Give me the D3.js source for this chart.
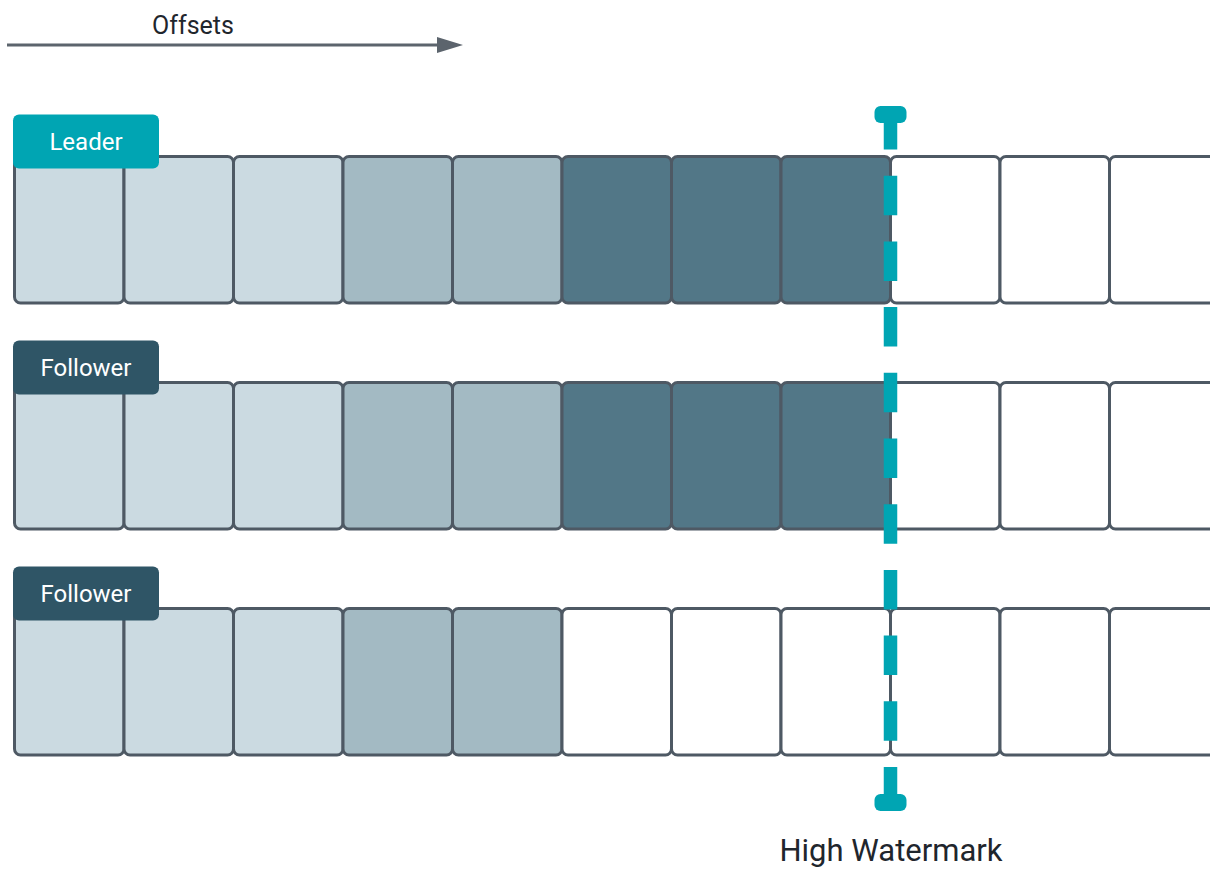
<!DOCTYPE html>
<html>
<head>
<meta charset="utf-8">
<script src="https://cdn.jsdelivr.net/npm/d3@7"></script>
<style>
  html, body { margin: 0; padding: 0; background: #fff; overflow: hidden; }
  text { font-family: Roboto, "Noto Sans", sans-serif; }
</style>
</head>
<body>
<div id="chart"></div>
<script>
// replicas, top to bottom
let replicaNames = ["Leader", "Follower", "Follower"];
let replicaRoles = ["leader", "follower", "follower"];
// state per offset: 1 = old, 2 = older committed, 3 = recent committed, 0 = empty
let replicaLogs = [
    [1, 1, 1, 2, 2, 3, 3, 3, 0, 0, 0],
    [1, 1, 1, 2, 2, 3, 3, 3, 0, 0, 0],
    [1, 1, 1, 2, 2, 0, 0, 0, 0, 0, 0]
];
let highWatermark = 8;
let axisLabel = "Offsets";
let watermarkLabel = "High Watermark";

function graph(id) {
    let width = 1210, height = 869;
    let cellColours = ["#ffffff", "#cbdae1", "#a3bac3", "#527787"];
    let labelColours = { leader: "#00a5b3", follower: "#2f5566" };
    let cellStroke = "#4e5964";
    let numCells = replicaLogs[0].length;
    let cellWidth = 109.5;
    let cellHeight = 146.5;

    let x = d3.scaleLinear()
        .domain([0, numCells])
        .range([14.5, 14.5 + numCells * cellWidth]);

    let y = d3.scalePoint()
        .domain(d3.range(replicaNames.length))
        .range([156.5, 156.5 + 226 * (replicaNames.length - 1)]);

    let svg = d3.select(id)
        .append("svg")
        .attr("width", width)
        .attr("height", height);

    // offsets arrow
    svg.append("defs").append("marker")
        .attr("id", "head")
        .attr("viewBox", "0 0 26 16")
        .attr("refX", 0)
        .attr("refY", 8)
        .attr("markerUnits", "userSpaceOnUse")
        .attr("markerWidth", 26)
        .attr("markerHeight", 16)
        .attr("orient", "auto")
        .append("path")
        .attr("d", "M0,0L26,8L0,16Z")
        .attr("fill", "#5c646d");

    svg.append("line")
        .attr("x1", 7).attr("x2", 437)
        .attr("y1", 45).attr("y2", 45)
        .attr("stroke", "#5c646d")
        .attr("stroke-width", 3)
        .attr("marker-end", "url(#head)");

    svg.append("text")
        .attr("x", 193).attr("y", 34)
        .attr("text-anchor", "middle")
        .attr("font-size", 25)
        .attr("fill", "#1f262d")
        .text(axisLabel);

    // log cells
    let rows = svg.selectAll("g.row")
        .data(replicaLogs)
        .enter()
        .append("g")
        .attr("class", "row")
        .attr("transform", (d, i) => `translate(0,${y(i)})`);

    rows.selectAll("rect")
        .data((d) => d)
        .enter()
        .append("rect")
        .attr("x", (d, i) => x(i))
        .attr("y", 0)
        .attr("width", cellWidth)
        .attr("height", cellHeight)
        .attr("rx", 6)
        .attr("fill", (d) => cellColours[d])
        .attr("stroke", cellStroke)
        .attr("stroke-width", 3);

    // replica labels
    let labels = rows.append("g")
        .attr("transform", "translate(13,-42)");

    labels.append("rect")
        .attr("width", 146)
        .attr("height", 54)
        .attr("rx", 6)
        .attr("fill", (d, i) => labelColours[replicaRoles[i]]);

    labels.append("text")
        .attr("x", 73)
        .attr("y", 35)
        .attr("text-anchor", "middle")
        .attr("font-size", 24)
        .attr("fill", "#ffffff")
        .text((d, i) => replicaNames[i]);

    // high watermark
    let hx = x(highWatermark);
    let top = 110, bottom = 808;
    let wm = svg.append("g");

    wm.append("line")
        .attr("x1", hx).attr("x2", hx)
        .attr("y1", top).attr("y2", bottom)
        .attr("stroke", "#00a5b3")
        .attr("stroke-width", 13.5)
        .attr("stroke-dasharray", "39.5,26.2");

    wm.selectAll("rect.cap")
        .data([106, 794])
        .enter()
        .append("rect")
        .attr("class", "cap")
        .attr("x", hx - 16)
        .attr("y", (d) => d)
        .attr("width", 32)
        .attr("height", 17)
        .attr("rx", 6)
        .attr("fill", "#00a5b3");

    svg.append("text")
        .attr("x", 891).attr("y", 861)
        .attr("text-anchor", "middle")
        .attr("font-size", 31)
        .attr("fill", "#1f262d")
        .text(watermarkLabel);
}

graph("#chart");
</script>
</body>
</html>
